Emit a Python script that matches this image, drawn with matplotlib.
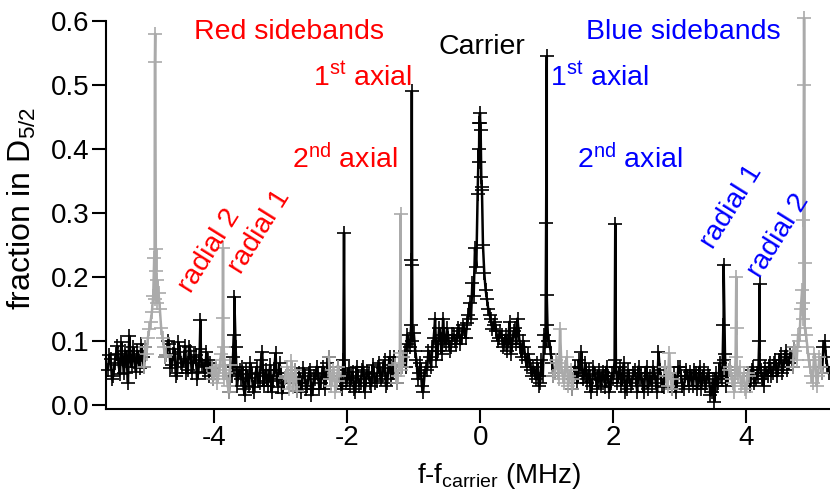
import numpy as np
import matplotlib
matplotlib.use("Agg")
import matplotlib.pyplot as plt

plt.rcParams['font.family'] = ['Liberation Sans', 'DejaVu Sans']
plt.rcParams['mathtext.fontset'] = 'custom'
plt.rcParams['mathtext.rm'] = 'Liberation Sans'
plt.rcParams['mathtext.it'] = 'Liberation Sans:italic'

# ---------------- data ----------------
# scan A: frequency grid (MHz) from -5.60 in steps of 0.04 MHz
scanA_start = -5.60
scanA_step = 0.04
scanA_values = [
    0.055, 0.072, 0.045, 0.080, 0.062, 0.098, 0.050, 0.075, 0.108, 0.060,   # -5.60
    0.070, 0.085, 0.058, 0.075, 0.090, 0.105, 0.130, 0.170, 0.210, 0.175,   # -5.20
    0.120, 0.090, 0.078, 0.095, 0.062, 0.088, 0.050, 0.082, 0.060, 0.092,   # -4.80
    0.055, 0.085, 0.065, 0.078, 0.052, 0.070, 0.060, 0.082, 0.045, 0.058,   # -4.40
    0.050, 0.035, 0.062, 0.070, 0.055, 0.030, 0.062, 0.075, 0.090, 0.048,   # -4.00
    0.040, 0.025, 0.055, 0.030, 0.048, 0.020, 0.060, 0.035, 0.083, 0.045,   # -3.60
    0.030, 0.062, 0.038, 0.081, 0.028, 0.050, 0.035, 0.045, 0.025, 0.068,   # -3.20
    0.040, 0.022, 0.050, 0.035, 0.045, 0.030, 0.055, 0.025, 0.040, 0.048,   # -2.80
    0.035, 0.060, 0.042, 0.075, 0.030, 0.050, 0.038, 0.045, 0.025, 0.055,   # -2.40
    0.040, 0.030, 0.052, 0.020, 0.045, 0.035, 0.060, 0.040, 0.048, 0.030,   # -2.00
    0.050, 0.038, 0.065, 0.045, 0.070, 0.035, 0.075, 0.050, 0.062, 0.045,   # -1.60
    0.055, 0.075, 0.060, 0.095, 0.125, 0.112, 0.070, 0.050, 0.030, 0.045,   # -1.20
    0.055, 0.075, 0.090, 0.135, 0.085, 0.110, 0.135, 0.095, 0.105, 0.090,   # -0.80
    0.110, 0.095, 0.115, 0.105, 0.118, 0.128, 0.160, 0.190, 0.245, 0.330,   # -0.40
    0.440, 0.250, 0.180, 0.150, 0.135, 0.125, 0.115, 0.105, 0.110, 0.095,   #  0.00
    0.085, 0.130, 0.095, 0.120, 0.135, 0.090, 0.100, 0.070, 0.080, 0.055,   #  0.40
    0.060, 0.040, 0.030, 0.070, 0.110, 0.172, 0.100, 0.065, 0.050, 0.065,   #  0.80
    0.118, 0.045, 0.060, 0.030, 0.055, 0.040, 0.050, 0.070, 0.083, 0.045,   #  1.20
    0.035, 0.055, 0.030, 0.048, 0.025, 0.040, 0.052, 0.028, 0.045, 0.035,   #  1.60
    0.040, 0.060, 0.050, 0.030, 0.065, 0.025, 0.045, 0.035, 0.055, 0.020,   #  2.00
    0.040, 0.030, 0.050, 0.025, 0.045, 0.060, 0.035, 0.083, 0.040, 0.028,   #  2.40
    0.045, 0.081, 0.025, 0.050, 0.035, 0.060, 0.030, 0.045, 0.040, 0.052,   #  2.80
    0.030, 0.050, 0.040, 0.025, 0.055, 0.035, 0.045, 0.020, 0.005, 0.030,   #  3.20
    0.065, 0.040, 0.080, 0.045, 0.060, 0.035, 0.075, 0.045, 0.030, 0.050,   #  3.60
    0.020, 0.045, 0.055, 0.035, 0.050, 0.070, 0.040, 0.060, 0.045, 0.065,   #  4.00
    0.050, 0.070, 0.055, 0.080, 0.060, 0.085, 0.065, 0.075, 0.090, 0.070,   #  4.40
    0.100, 0.180, 0.120, 0.090, 0.060, 0.035, 0.070, 0.045, 0.060, 0.090,   #  4.80
    0.075, 0.050,                                                            #  5.20
]

# scan B: interleaved grid from -5.58 in steps of 0.04 MHz
scanB_start = -5.58
scanB_step = 0.04
scanB_values = [
    0.078, 0.040, 0.066, 0.092, 0.048, 0.070, 0.085, 0.035, 0.068, 0.090,   # -5.58
    0.052, 0.068, 0.095, 0.060, 0.080, 0.118, 0.145, 0.165, 0.195, 0.150,   # -5.18
    0.105, 0.075, 0.100, 0.058, 0.080, 0.045, 0.098, 0.065, 0.072, 0.050,   # -4.78
    0.090, 0.050, 0.075, 0.040, 0.088, 0.062, 0.050, 0.070, 0.065, 0.040,   # -4.38
    0.060, 0.045, 0.080, 0.040, 0.050, 0.020, 0.045, 0.060, 0.030, 0.055,   # -3.98
    0.060, 0.015, 0.042, 0.065, 0.028, 0.050, 0.038, 0.070, 0.030, 0.055,   # -3.58
    0.045, 0.020, 0.055, 0.040, 0.065, 0.018, 0.042, 0.060, 0.040, 0.028,   # -3.18
    0.055, 0.035, 0.020, 0.058, 0.025, 0.050, 0.015, 0.045, 0.060, 0.025,   # -2.78
    0.050, 0.025, 0.065, 0.040, 0.055, 0.020, 0.060, 0.030, 0.070, 0.035,   # -2.38
    0.058, 0.042, 0.025, 0.060, 0.030, 0.055, 0.020, 0.052, 0.035, 0.062,   # -1.98
    0.035, 0.060, 0.040, 0.058, 0.030, 0.062, 0.040, 0.075, 0.035, 0.065,   # -1.58
    0.060, 0.085, 0.110, 0.090, 0.100, 0.085, 0.040, 0.065, 0.020, 0.060,   # -1.18
    0.085, 0.060, 0.105, 0.070, 0.120, 0.080, 0.100, 0.120, 0.085, 0.110,   # -0.78
    0.100, 0.120, 0.095, 0.125, 0.105, 0.140, 0.135, 0.170, 0.215, 0.380,   # -0.38
    0.340, 0.206, 0.165, 0.140, 0.118, 0.130, 0.100, 0.115, 0.090, 0.110,   #  0.02
    0.100, 0.080, 0.115, 0.095, 0.110, 0.075, 0.090, 0.060, 0.070, 0.045,   #  0.42
    0.050, 0.065, 0.035, 0.045, 0.090, 0.100, 0.080, 0.045, 0.070, 0.040,   #  0.82
    0.060, 0.035, 0.075, 0.045, 0.025, 0.060, 0.035, 0.055, 0.040, 0.065,   #  1.22
    0.045, 0.020, 0.060, 0.040, 0.055, 0.030, 0.045, 0.060, 0.020, 0.050,   #  1.62
    0.070, 0.035, 0.060, 0.045, 0.020, 0.055, 0.030, 0.050, 0.040, 0.060,   #  2.02
    0.050, 0.020, 0.060, 0.040, 0.030, 0.050, 0.020, 0.055, 0.030, 0.060,   #  2.42
    0.030, 0.050, 0.040, 0.020, 0.060, 0.045, 0.025, 0.055, 0.030, 0.040,   #  2.82
    0.055, 0.025, 0.060, 0.040, 0.030, 0.050, 0.015, 0.040, 0.050, 0.035,   #  3.22
    0.045, 0.070, 0.030, 0.055, 0.040, 0.020, 0.050, 0.060, 0.035, 0.025,   #  3.62
    0.050, 0.030, 0.060, 0.040, 0.045, 0.055, 0.030, 0.050, 0.060, 0.045,   #  4.02
    0.065, 0.045, 0.070, 0.050, 0.075, 0.055, 0.080, 0.060, 0.085, 0.110,   #  4.42
    0.150, 0.135, 0.110, 0.070, 0.045, 0.080, 0.030, 0.075, 0.050, 0.100,   #  4.82
    0.060,                                                                   #  5.22
]

# narrow resonance points measured between grid points
peak_freqs = [-4.905, -4.895, -4.89, -4.875, -4.865,
              -4.21,
              -3.875, -3.87, -3.86,
              -3.705, -3.70,
              -2.05,
              -1.21, -1.20,
              -1.035, -1.03, -1.025,
              -0.025, -0.015, -0.005, 0.005, 0.015, 0.025,
              0.99, 1.00, 1.01,
              2.03,
              3.655, 3.66,
              3.85, 3.855,
              4.195, 4.20,
              4.855, 4.86, 4.87, 4.875, 4.88]
peak_values = [0.230, 0.536, 0.580, 0.244, 0.160,
               0.133,
               0.136, 0.245, 0.090,
               0.109, 0.169,
               0.269,
               0.081, 0.298,
               0.227, 0.490, 0.219,
               0.400, 0.440, 0.456, 0.430, 0.356, 0.336,
               0.284, 0.545, 0.125,
               0.283,
               0.125, 0.219,
               0.200, 0.120,
               0.100, 0.189,
               0.159, 0.289, 0.604, 0.500, 0.222]

# frequency windows recorded in the grey scans
grey_windows = [(-5.06, -4.74), (-4.02, -3.78), (-2.92, -2.78), (-2.26, -2.14),
                (-1.26, -1.17), (1.10, 1.38), (2.78, 2.90), (3.76, 4.04), (4.70, 5.14)]

# ---------------- build ----------------
fA = scanA_start + scanA_step * np.arange(len(scanA_values))
fB = scanB_start + scanB_step * np.arange(len(scanB_values))
f_all = np.concatenate([fA, fB, np.array(peak_freqs)])
v_all = np.concatenate([np.array(scanA_values), np.array(scanB_values), np.array(peak_values)])
order = np.argsort(f_all, kind='stable')
f_all = f_all[order]
v_all = v_all[order]
is_grey = np.zeros(len(f_all), dtype=bool)
for a, b in grey_windows:
    is_grey |= (f_all >= a) & (f_all <= b)

W, H = 830, 490
fig = plt.figure(figsize=(W / 100, H / 100), dpi=100)
ax = fig.add_axes([106 / W, 81.2 / H, 724 / W, 400.6 / H])

BLACK = '#000000'
GREY = '#aaaaaa'

start = 0
n = len(f_all)
while start < n:
    end = start
    while end + 1 < n and is_grey[end + 1] == is_grey[start]:
        end += 1
    lo = max(start - 1, 0)
    hi = min(end + 2, n)
    col = GREY if is_grey[start] else BLACK
    ax.plot(f_all[lo:hi], v_all[lo:hi], color=col, lw=1.8, marker='+',
            ms=9.5, mew=1.2, zorder=3 if is_grey[start] else 2, clip_on=False)
    start = end + 1

ax.set_xlim(-5.63, 5.26)
ax.set_ylim(-0.006, 0.62)
ax.spines['top'].set_visible(False)
ax.spines['right'].set_visible(False)
ax.spines['left'].set_bounds(-0.006, 0.6)
for s in ('left', 'bottom'):
    ax.spines[s].set_linewidth(1.5)
ax.set_xticks([-4, -2, 0, 2, 4])
ax.set_xticklabels(['-4', '-2', '0', '2', '4'])
ax.set_yticks([0.0, 0.1, 0.2, 0.3, 0.4, 0.5, 0.6])
ax.set_yticklabels(['0.0', '0.1', '0.2', '0.3', '0.4', '0.5', '0.6'])
ax.tick_params(axis='both', direction='out', length=10, width=1.5, labelsize=20, pad=2)

ax.set_ylabel(r'fraction in D$_{5/2}$', fontsize=23)
ax.yaxis.set_label_coords(-0.094, 0.5)
fig.text(499 / W, 1 - 483 / H, r'f-f$_{\mathrm{carrier}}$ (MHz)', fontsize=20,
         ha='center', va='baseline')

def ftxt(x, y, s, color, rot=0):
    fig.text(x / W, 1 - y / H, s, color=color, fontsize=20.5, ha='center', va='center',
             rotation=rot, rotation_mode='anchor')

RED = '#ff0000'
BLUE = '#0000ff'
ftxt(289, 32, 'Red sidebands', RED)
ftxt(683, 32, 'Blue sidebands', BLUE)
ftxt(482, 47, 'Carrier', 'black')
ftxt(362, 78, r'1$^{\mathrm{st}}$ axial', RED)
ftxt(345, 159, r'2$^{\mathrm{nd}}$ axial', RED)
ftxt(599, 78, r'1$^{\mathrm{st}}$ axial', BLUE)
ftxt(630, 159, r'2$^{\mathrm{nd}}$ axial', BLUE)
ftxt(210, 251, 'radial 2', RED, 58)
ftxt(260, 232, 'radial 1', RED, 58)
ftxt(732, 207, 'radial 1', BLUE, 58)
ftxt(779, 236, 'radial 2', BLUE, 58)

fig.savefig('out.png', dpi=100)
